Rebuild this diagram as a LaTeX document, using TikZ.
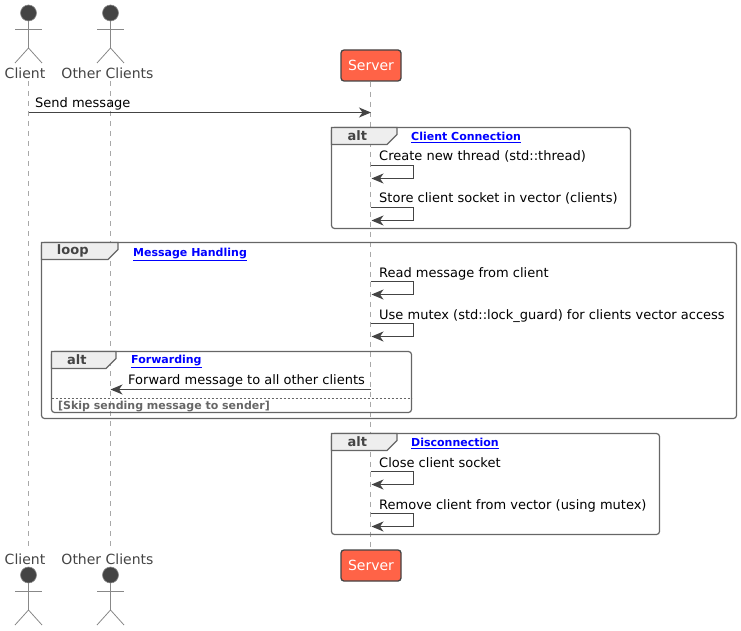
\documentclass[tikz,border=0pt]{standalone}
\usepackage{fontspec}
\setmainfont{DejaVu Sans}
\usetikzlibrary{arrows.meta}
\definecolor{inkgrey}{HTML}{444444}
\definecolor{framegrey}{HTML}{666666}
\definecolor{tabgrey}{HTML}{EEEEEE}
\definecolor{serverred}{HTML}{FF6347}
\definecolor{lifegrey}{HTML}{A8A8A8}
\definecolor{stickgrey}{HTML}{888888}
\tikzset{
    msg/.style={anchor=base west, inner sep=0pt, font=\fontsize{13}{13}\selectfont, text=black},
    arrowline/.style={draw=inkgrey, line width=1pt, -{Stealth[length=12pt,width=10pt,inset=3.5pt]}},
    lifeline/.style={draw=lifegrey, line width=.8pt, dash pattern=on 5pt off 5pt},
    actorname/.style={inner sep=0pt, text=inkgrey, font=\fontsize{14}{14}\selectfont},
    serverbox/.style={draw=inkgrey, line width=1.3pt, fill=serverred, rounded corners=3pt, text=white,
        minimum width=60pt, minimum height=31pt, inner sep=0pt, font=\fontsize{14}{14}\selectfont},
    framebox/.style={draw=framegrey, line width=1.2pt, rounded corners=3pt},
    tabshape/.style={draw=framegrey, line width=1.2pt, fill=tabgrey},
    tabname/.style={inner sep=0pt, text=inkgrey, font=\fontsize{13}{13}\selectfont\bfseries},
    linkname/.style={anchor=base west, inner sep=0pt, text=blue, font=\fontsize{11}{11}\selectfont\bfseries},
    guardname/.style={anchor=base west, inner sep=0pt, text=framegrey, font=\fontsize{11}{11}\selectfont\bfseries},
}
\begin{document}
\begin{tikzpicture}[x=1pt, y=-1pt]
    \useasboundingbox (0, 0) rectangle (741, 631);

    % heads and feet of the lifelines
    \node[actorname] (clientTop) at (25, 73) {Client};
    \node[actorname] (clientBottom) at (25, 559) {Client};
    \node[actorname] (otherTop) at (107.5, 73) {Other Clients};
    \node[actorname] (otherBottom) at (107.5, 559) {Other Clients};
    \node[serverbox] (serverTop) at (371, 65.5) {Server};
    \node[serverbox] (serverBottom) at (371, 565.5) {Server};

    \coordinate (clientA) at (28.5, 81);
    \coordinate (clientB) at (28.5, 547);
    \coordinate (otherA) at (110.5, 81);
    \coordinate (otherB) at (110.5, 547);
    \draw[lifeline] (clientA) -- (clientB);
    \draw[lifeline] (otherA) -- (otherB);
    \draw[lifeline] (serverTop.south -| 370.5, 0) -- (serverBottom.north -| 370.5, 0);

    % stick figures
    \foreach \x/\y in {28.5/13, 110.5/13, 28.5/575, 110.5/575} {
        \filldraw[draw=stickgrey, fill=inkgrey, line width=.6pt] (\x, \y) circle (8);
        \draw[stickgrey, line width=.8pt] (\x, \y + 8) -- (\x, \y + 35);
        \draw[stickgrey, line width=.8pt] (\x - 13.5, \y + 16) -- (\x + 13.5, \y + 16);
        \draw[stickgrey, line width=.8pt] (\x - 13.5, \y + 50) -- (\x, \y + 35) -- (\x + 13.5, \y + 50);
    };

    % frames
    \foreach \l/\t/\r/\b/\tabr/\word in {
        331.5/127.5/630.5/228.5/397/alt,
        41.5/242.5/736.5/418.5/118/loop,
        51.5/351.5/411.5/412.5/116/alt,
        331.5/433.5/659.5/534.5/397/alt} {
        \draw[framebox] (\l, \t) rectangle (\r, \b);
        \filldraw[tabshape] (\l, \t) -- (\tabr, \t) -- (\tabr, \t + 7) -- (\tabr - 10, \t + 17) -- (\l, \t + 17) -- cycle;
        \node[tabname] at ({(\l + \tabr - 14) / 2}, \t + 8) {\word};
    };
    \node[linkname] (linkConnect) at (411, 140.5) {\underline{Client Connection}};
    \node[linkname] (linkHandling) at (133, 256.5) {\underline{Message Handling}};
    \node[linkname] (linkForward) at (131, 363.5) {\underline{Forwarding}};
    \node[linkname] (linkDisconnect) at (411, 446.5) {\underline{Disconnection}};

    % messages between participants
    \coordinate (sendA) at (28.5, 112.5);
    \coordinate (sendB) at (371, 112.5);
    \draw[arrowline] (sendA) -- (sendB);
    \node[msg] (sendText) at (35, 107.5) {Send message};

    \coordinate (fwdA) at (370.5, 389.5);
    \coordinate (fwdB) at (110.5, 389.5);
    \draw[arrowline] (fwdA) -- (fwdB);
    \node[msg] (fwdText) at (128, 384) {Forward message to all other clients};

    \draw[framegrey, line width=.7pt, dash pattern=on 2pt off 2pt] (51.5, 398.5) -- (411.5, 398.5);
    \node[guardname] (guardText) at (58, 409) {[Skip sending message to sender]};

    % messages of the server to itself
    \foreach \y/\words in {
        165.5/Create new thread (std::thread),
        207.5/Store client socket in vector (clients),
        281.5/Read message from client,
        323.5/Use mutex (std::lock\_guard) for clients vector access,
        471.5/Close client socket,
        513.5/Remove client from vector (using mutex)} {
        \coordinate (selfA) at (370.5, \y);
        \coordinate (selfB) at (371.5, \y + 13);
        \draw[arrowline] (selfA) -- (413.5, \y) -- (413.5, \y + 13) -- (selfB);
        \node[msg] at (379, \y - 4.5) {\words};
    };
\end{tikzpicture}
\end{document}
